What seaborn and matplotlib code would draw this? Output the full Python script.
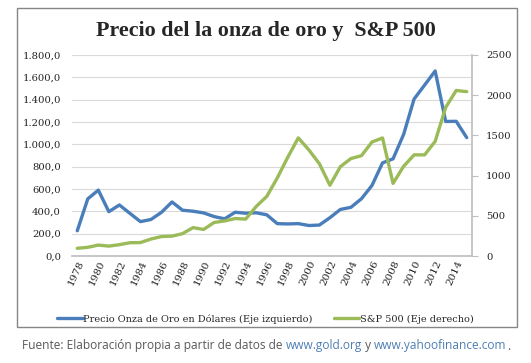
import matplotlib
matplotlib.use("Agg")
import matplotlib.pyplot as plt
import matplotlib.ticker as mticker
from matplotlib.patches import Rectangle
import pandas as pd
import seaborn as sns

years = list(range(1978, 2016))
gold = [226, 512, 590, 397, 457, 382, 308, 327, 391, 484, 410, 401, 386, 353,
        333, 392, 383, 387, 369, 290, 287, 290, 273, 277, 343, 417, 436, 513,
        632, 834, 870, 1088, 1406, 1531, 1657, 1205, 1206, 1060]
sp500 = [96, 108, 136, 123, 141, 165, 167, 211, 242, 247, 278, 353, 330, 417,
         436, 466, 459, 616, 741, 970, 1229, 1469, 1320, 1148, 880, 1112, 1212,
         1248, 1418, 1468, 903, 1115, 1258, 1258, 1426, 1848, 2059, 2044]

gold_label = "Precio Onza de Oro en Dólares (Eje izquierdo)"
sp_label = "S&P 500 (Eje derecho)"
title = "Precio del la onza de oro y  S&P 500"

df = pd.DataFrame({"year": years, "gold": gold, "sp500": sp500})

BLUE = "#4A7EBB"
GREEN = "#9BBB59"

sns.set_theme(style="white")
plt.rcParams["font.family"] = ["DejaVu Serif"]

W, H = 531, 363
fig = plt.figure(figsize=(W / 100, H / 100), dpi=100)
ax = fig.add_axes([72 / W, 1 - 256 / H, (472 - 72) / W, (256 - 55) / H])
ax2 = ax.twinx()

sns.lineplot(data=df, x="year", y="gold", ax=ax, color=BLUE, lw=2.4,
             label=gold_label, legend=False)
sns.lineplot(data=df, x="year", y="sp500", ax=ax2, color=GREEN, lw=2.4,
             label=sp_label, legend=False)

ax.set_xlim(1977.5, 2015.5)
ax.set_ylim(0, 1800)
ax2.set_ylim(0, 2500)
ax.set_yticks(range(0, 1801, 200))
ax2.set_yticks(range(0, 2501, 500))
ax.yaxis.set_major_formatter(mticker.FuncFormatter(
    lambda v, p: f"{v:,.1f}".replace(",", "X").replace(".", ",").replace("X", ".")))
ax.set_xticks(years[::2])
ax.set_xticklabels([str(y) for y in years[::2]], rotation=65, ha="right",
                   rotation_mode="anchor", fontsize=7.5, color="#222222")
ax.set_xlabel("")
ax.set_ylabel("")
ax2.set_ylabel("")

ax.grid(axis="y", color="#d9d9d9", lw=0.8)
ax.set_axisbelow(True)
for s in ["top", "left", "right"]:
    ax.spines[s].set_visible(False)
for s in ["top", "left", "bottom"]:
    ax2.spines[s].set_visible(False)
ax.spines["bottom"].set_color("#bfbfbf")
ax2.spines["right"].set_color("#bfbfbf")
ax.tick_params(axis="y", length=0, labelsize=7.2, labelcolor="#222222", pad=8)
ax.tick_params(axis="x", length=0, pad=2)
ax2.tick_params(axis="y", length=4, width=0.8, color="#bfbfbf", labelsize=7.2,
                labelcolor="#222222", pad=6)

h1, l1 = ax.get_legend_handles_labels()
h2, l2 = ax2.get_legend_handles_labels()
fig.legend(h1 + h2, l1 + l2, loc="center", bbox_to_anchor=(0.5, 1 - 319 / H),
           ncol=2, frameon=False, fontsize=7, handlelength=2.6,
           handletextpad=0.05, columnspacing=2.2)

fig.text(266 / W, 1 - 31 / H, title, ha="center", va="center",
         fontsize=15.8, fontweight="bold", family="Liberation Serif")

fig.patches.append(Rectangle((17 / W, 1 - 327 / H), 500 / W, 319 / H,
                             transform=fig.transFigure, fill=False,
                             edgecolor="#868686", lw=1))

# caption with coloured links
renderer = fig.canvas.get_renderer()
parts = [("Fuente: Elaboración propia a partir de datos de ", "#595959"),
         ("www.gold.org", "#4F7EB3"), (" y ", "#595959"),
         ("www.yahoofinance.com", "#4F7EB3"), (".", "#595959")]
x = 22
for txt, col in parts:
    t = fig.text(x / W, 1 - 346 / H, txt, color=col, fontsize=8.6,
                 family="Open Sans", va="center", ha="left")
    x += t.get_window_extent(renderer).width

fig.savefig("out.png", dpi=100)
